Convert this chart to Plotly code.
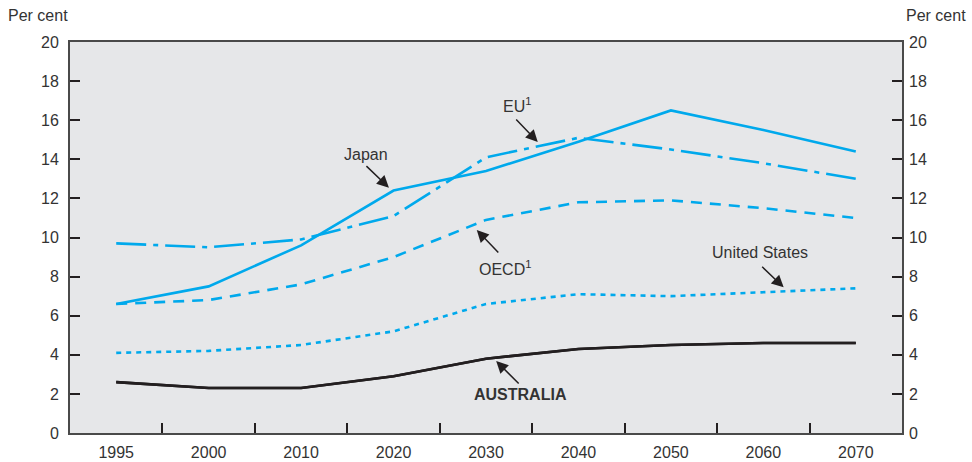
import plotly.graph_objects as go

# Projected series, per cent
years = ["1995", "2000", "2010", "2020", "2030", "2040", "2050", "2060", "2070"]
japan = [6.6, 7.5, 9.6, 12.4, 13.4, 14.9, 16.5, 15.5, 14.4]
eu = [9.7, 9.5, 9.9, 11.1, 14.1, 15.1, 14.5, 13.8, 13.0]
oecd = [6.6, 6.8, 7.6, 9.0, 10.9, 11.8, 11.9, 11.5, 11.0]
united_states = [4.1, 4.2, 4.5, 5.2, 6.6, 7.1, 7.0, 7.2, 7.4]
australia = [2.6, 2.3, 2.3, 2.9, 3.8, 4.3, 4.5, 4.6, 4.6]
y_ticks = [0, 2, 4, 6, 8, 10, 12, 14, 16, 18, 20]

BLUE = "#00a9ec"
INK = "#231f20"
TEXT = "#333333"
FRAME = "#4a4a4a"
FONT = "Liberation Sans, Arial, sans-serif"

fig = go.Figure()

series = [
    ("Japan", japan, BLUE, "solid"),
    ("EU", eu, BLUE, "30px,7px,5px,7px"),
    ("OECD", oecd, BLUE, "11px,8px"),
    ("United States", united_states, BLUE, "5px,5px"),
    ("Australia", australia, INK, "solid"),
]
for name, vals, col, dash in series:
    fig.add_trace(go.Scatter(
        x=years, y=vals, name=name, mode="lines",
        line=dict(color=col, width=2.6, dash=dash),
        showlegend=False, hoverinfo="skip",
    ))

# Same Australia data on the right-hand axis so the mirrored scale is drawn
fig.add_trace(go.Scatter(
    x=years, y=australia, yaxis="y2", mode="lines",
    line=dict(color=INK, width=2.6), showlegend=False, hoverinfo="skip",
))

# Labels with pointer arrows: (text, text x, text y, arrow head x, head y, tail dx, tail dy)
labels = [
    ("Japan", 2.70, 14.25, 2.95, 12.55, -24, -23),
    ("EU<sup>1</sup>", 4.33, 16.80, 4.56, 14.88, -23, -24),
    ("OECD<sup>1</sup>", 4.21, 8.45, 3.90, 10.38, 23, 24),
    ("United States", 6.96, 9.21, 7.22, 7.45, -23, -22),
    ("<b>AUSTRALIA</b>", 4.37, 1.99, 4.11, 3.68, 24, 24),
]
for text, tx, ty, hx, hy, dx, dy in labels:
    fig.add_annotation(x=tx, y=ty, xref="x", yref="y", text=text, showarrow=False,
                       font=dict(family=FONT, size=16, color=TEXT))
    fig.add_annotation(x=hx, y=hy, xref="x", yref="y", text="", showarrow=True,
                       ax=dx, ay=dy, axref="pixel", ayref="pixel",
                       arrowhead=2, arrowsize=1.6, arrowwidth=1.5, arrowcolor=INK)

for xp, anchor, shift in [(0.0, "left", -64), (1.0, "right", 66)]:
    fig.add_annotation(x=xp, y=1.0, xref="paper", yref="paper", yshift=16,
                       xshift=shift, text="Per cent", showarrow=False,
                       xanchor=anchor, yanchor="bottom",
                       font=dict(family=FONT, size=16, color=TEXT))

axis_common = dict(
    range=[0, 20], tickvals=y_ticks, ticks="inside", ticklen=10, tickwidth=1.5,
    tickcolor=INK, showgrid=False, zeroline=False, automargin=False,
    tickfont=dict(family=FONT, size=16, color=TEXT),
)

fig.update_layout(
    width=972, height=462,
    margin=dict(l=70, r=70, t=42, b=29, autoexpand=False),
    paper_bgcolor="white", plot_bgcolor="#e6e7e9",
    font=dict(family=FONT, color=TEXT),
    xaxis=dict(
        type="category", range=[-0.5, 8.5], tickson="boundaries",
        ticks="inside", ticklen=10, tickwidth=1.5, tickcolor=INK,
        showline=True, linecolor=FRAME, linewidth=2, mirror=True,
        showgrid=False, automargin=False, ticklabelstandoff=4,
        tickfont=dict(family=FONT, size=16, color=TEXT),
    ),
    yaxis=dict(showline=True, linecolor=FRAME, linewidth=2, mirror=True,
               ticklabelstandoff=6, **axis_common),
    yaxis2=dict(overlaying="y", side="right", showline=False,
                ticklabelstandoff=6, **axis_common),
)

fig.write_html("out.html")
